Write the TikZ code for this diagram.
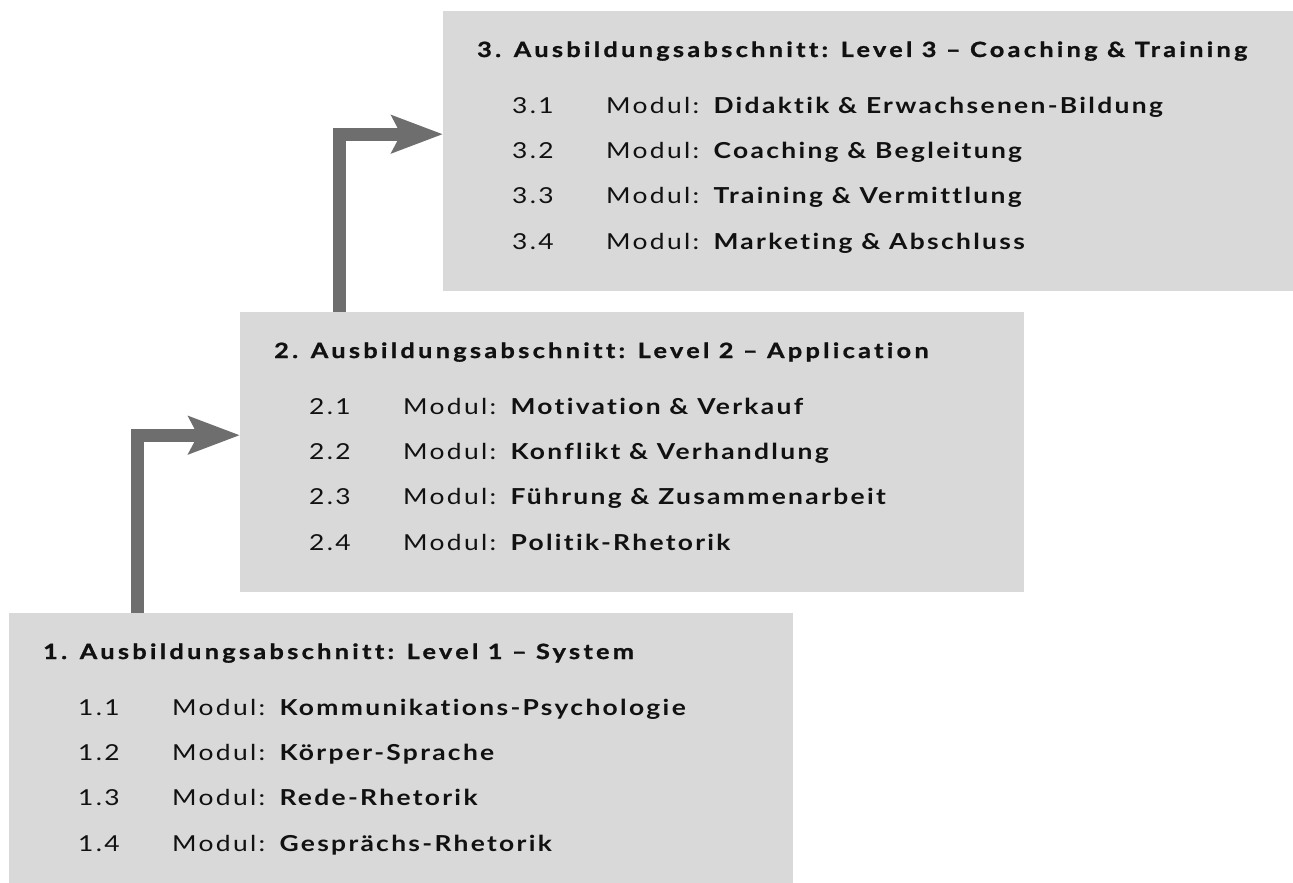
\documentclass[tikz,border=0pt]{standalone}
\usepackage{fontspec}
\setmainfont{Lato}[FakeStretch=1.2, LetterSpace=10.5, Ligatures=CommonOff]
\newfontfamily\titlefont{Lato}[FakeStretch=1.2, LetterSpace=16, Ligatures=CommonOff, BoldFeatures={FakeBold=1.2}]
\usetikzlibrary{arrows.meta}
\definecolor{boxgray}{HTML}{D9D9D9}
\definecolor{arrgray}{HTML}{6E6E6E}
\definecolor{txt}{HTML}{111111}
\tikzset{
  levelbox/.style={fill=boxgray, draw=none, anchor=north west, inner sep=0pt},
  titletext/.style={anchor=base west, inner sep=0pt, text=txt, font=\titlefont\fontsize{21}{24}\selectfont\bfseries},
  itemtext/.style={anchor=base west, inner sep=0pt, text=txt, font=\fontsize{22}{26}\selectfont},
  flow/.style={draw=arrgray, line width=13pt, -{Stealth[length=51pt,width=37pt,inset=9pt]}}
}
\begin{document}
\begin{tikzpicture}[x=1pt,y=-1pt]
\useasboundingbox (0,0) rectangle (1293,883);
% boxes
\node[levelbox, minimum width=850pt, minimum height=280pt] (b3) at (443,11) {};
\node[levelbox, minimum width=784pt, minimum height=280pt] (b2) at (240,312) {};
\node[levelbox, minimum width=784pt, minimum height=271pt] (b1) at (9,613) {};
% arrows
\draw[flow] ([xshift=128pt]b1.north west) |- ([yshift=17pt]b2.west);
\draw[flow] ([xshift=99pt]b2.north west) |- ([yshift=17pt]b3.west);
% level 3
\node[titletext] (t3) at ([shift={(34,46)}]b3.north west) {3. Ausbildungsabschnitt: Level 3 – Coaching \& Training};
\node[itemtext] (n31) at ([shift={(69,102)}]b3.north west) {3.1};
\node[itemtext] (m31) at ([shift={(163,102)}]b3.north west) {Modul: \textbf{Didaktik \& Erwachsenen-Bildung}};
\node[itemtext] (n32) at ([shift={(69,147)}]b3.north west) {3.2};
\node[itemtext] (m32) at ([shift={(163,147)}]b3.north west) {Modul: \textbf{Coaching \& Begleitung}};
\node[itemtext] (n33) at ([shift={(69,192)}]b3.north west) {3.3};
\node[itemtext] (m33) at ([shift={(163,192)}]b3.north west) {Modul: \textbf{Training \& Vermittlung}};
\node[itemtext] (n34) at ([shift={(69,238)}]b3.north west) {3.4};
\node[itemtext] (m34) at ([shift={(163,238)}]b3.north west) {Modul: \textbf{Marketing \& Abschluss}};
% level 2
\node[titletext] (t2) at ([shift={(34,46)}]b2.north west) {2. Ausbildungsabschnitt: Level 2 – Application};
\node[itemtext] (n21) at ([shift={(69,102)}]b2.north west) {2.1};
\node[itemtext] (m21) at ([shift={(163,102)}]b2.north west) {Modul: \textbf{Motivation \& Verkauf}};
\node[itemtext] (n22) at ([shift={(69,147)}]b2.north west) {2.2};
\node[itemtext] (m22) at ([shift={(163,147)}]b2.north west) {Modul: \textbf{Konflikt \& Verhandlung}};
\node[itemtext] (n23) at ([shift={(69,192)}]b2.north west) {2.3};
\node[itemtext] (m23) at ([shift={(163,192)}]b2.north west) {Modul: \textbf{Führung \& Zusammenarbeit}};
\node[itemtext] (n24) at ([shift={(69,238)}]b2.north west) {2.4};
\node[itemtext] (m24) at ([shift={(163,238)}]b2.north west) {Modul: \textbf{Politik-Rhetorik}};
% level 1
\node[titletext] (t1) at ([shift={(34,46)}]b1.north west) {1. Ausbildungsabschnitt: Level 1 – System};
\node[itemtext] (n11) at ([shift={(69,102)}]b1.north west) {1.1};
\node[itemtext] (m11) at ([shift={(163,102)}]b1.north west) {Modul: \textbf{Kommunikations-Psychologie}};
\node[itemtext] (n12) at ([shift={(69,147)}]b1.north west) {1.2};
\node[itemtext] (m12) at ([shift={(163,147)}]b1.north west) {Modul: \textbf{Körper-Sprache}};
\node[itemtext] (n13) at ([shift={(69,192)}]b1.north west) {1.3};
\node[itemtext] (m13) at ([shift={(163,192)}]b1.north west) {Modul: \textbf{Rede-Rhetorik}};
\node[itemtext] (n14) at ([shift={(69,238)}]b1.north west) {1.4};
\node[itemtext] (m14) at ([shift={(163,238)}]b1.north west) {Modul: \textbf{Gesprächs-Rhetorik}};
\end{tikzpicture}
\end{document}
